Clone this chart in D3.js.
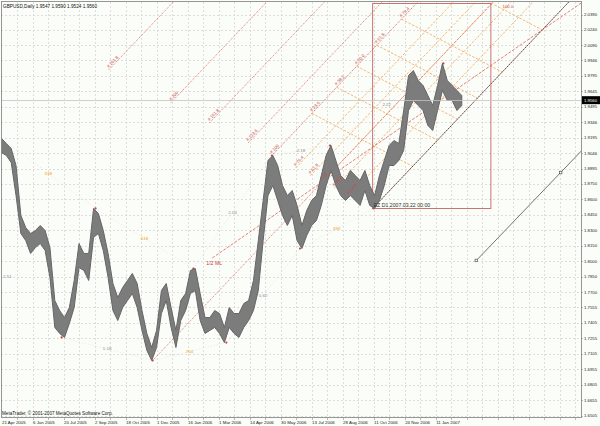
<!DOCTYPE html>
<html><head><meta charset="utf-8">
<script src="https://cdn.jsdelivr.net/npm/d3@7/dist/d3.min.js"></script>
<style>html,body{margin:0;padding:0;background:#fbfef8;} svg{display:block;font-family:"Liberation Sans",Arial,sans-serif;}</style>
</head><body>
<svg id="chart" width="600" height="426"></svg>
<script>
// ---------------- data ----------------
const chartTitle = "GBPUSD,Daily  1.9547 1.9590 1.9524 1.9560";
const copyrightText = "MetaTrader, \u00a9 2001-2007 MetaQuotes Software Corp.";
const dateLabels = ["21 Apr 2005","6 Jun 2005","20 Jul 2005","2 Sep 2005","18 Oct 2005","1 Dec 2005","16 Jan 2006","1 Mar 2006","14 Apr 2006","30 May 2006","13 Jul 2006","28 Aug 2006","11 Oct 2006","24 Nov 2006","11 Jan 2007"];
const dateLabelBars = [0,32,64,96,128,160,192,224,256,288,320,352,384,416,448];
const priceTicks = [2.0390,2.0240,2.0090,1.9946,1.9795,1.9645,1.9495,1.9346,1.9195,1.9046,1.8895,1.8750,1.8600,1.8450,1.8300,1.8150,1.8000,1.7850,1.7700,1.7555,1.7405,1.7255,1.7105,1.6955,1.6805,1.6655,1.6505];
const lastPrice = 1.9560;

const barIndex = [0,5,10,15,20,25,30,35,40,45,50,55,60,65,70,75,80,85,90,95,100,105,110,115,120,125,130,135,140,145,150,155,160,165,170,175,180,185,190,195,200,205,210,215,220,225,230,235,240,245,250,255,260,265,270,275,280,285,290,295,300,305,310,315,320,325,330,335,340,345,350,355,360,365,370,375,380,385,390,395,400,405,410,415,420,425,430,435,440,445,450,455,460,465,470,475];
const highs = [1.9189,1.9140,1.9092,1.8927,1.8443,1.8326,1.8268,1.8297,1.8346,1.8297,1.8132,1.7619,1.7522,1.7454,1.7551,1.7813,1.8171,1.8075,1.8075,1.8511,1.8462,1.8297,1.8075,1.7784,1.7648,1.7745,1.7813,1.7881,1.7784,1.7522,1.7300,1.7164,1.7329,1.7716,1.7784,1.7551,1.7329,1.7619,1.7687,1.7910,1.7929,1.7687,1.7454,1.7454,1.7522,1.7493,1.7358,1.7551,1.7493,1.7493,1.7590,1.7619,1.7813,1.8200,1.8588,1.8976,1.9024,1.8927,1.8733,1.8636,1.8685,1.8540,1.8346,1.8491,1.8588,1.8636,1.8830,1.9024,1.9121,1.8976,1.8830,1.8782,1.8879,1.8830,1.8782,1.8879,1.8733,1.8636,1.8830,1.8976,1.9121,1.9169,1.9140,1.9460,1.9799,1.9848,1.9751,1.9702,1.9605,1.9509,1.9702,1.9916,1.9751,1.9702,1.9654,1.9605];
const lows = [1.9053,1.9024,1.8956,1.8636,1.8268,1.8200,1.8075,1.8132,1.8171,1.8104,1.7842,1.7358,1.7300,1.7261,1.7396,1.7551,1.7939,1.7910,1.7813,1.8230,1.8268,1.8104,1.7842,1.7522,1.7425,1.7551,1.7619,1.7687,1.7551,1.7329,1.7135,1.7038,1.7164,1.7493,1.7619,1.7358,1.7164,1.7425,1.7522,1.7687,1.7716,1.7425,1.7300,1.7329,1.7358,1.7300,1.7212,1.7358,1.7300,1.7261,1.7358,1.7425,1.7522,1.7716,1.8200,1.8636,1.8733,1.8588,1.8443,1.8346,1.8443,1.8200,1.8123,1.8249,1.8346,1.8394,1.8540,1.8733,1.8879,1.8733,1.8636,1.8588,1.8636,1.8588,1.8540,1.8685,1.8540,1.8511,1.8588,1.8733,1.8927,1.8927,1.8976,1.9073,1.9460,1.9557,1.9509,1.9460,1.9315,1.9266,1.9460,1.9654,1.9557,1.9557,1.9460,1.9509];

// zigzag pivots and ratio labels
const pivotBars = [0,62,97,156,198,232,279,308,339,384,456];
const pivotPrices = [1.9189,1.7261,1.8511,1.7038,1.7929,1.7212,1.9024,1.8123,1.9121,1.8511,1.9916];
const pivotRatios = ["","638","1.18","618","764","2.04","0.62","2.18","630","2.22",""];
const extraRatioText = ["2.51"];
const extraRatioBars = [6];
const extraRatioPrices = [1.7855];

// Andrews pitchfork pivots (P0, P1, P2)
const forkBars = [156,279,383];
const forkPrices = [1.7038,1.9024,1.8511];
const forkOuterLevels = [-1.618,-1,-0.618,-0.236,0];
const forkOuterLabels = ["# 261.8","# 200","# 161.8","# 123.6","# 100"];
const forkInnerLevels = [0.236,0.382,0.5,0.618,0.764];
const forkInnerLabels = ["# 76.4","# 61.8","# 50","# 38.2","# 23.6"];
const forkTimeLevels = [0.236,0.382,0.5,0.618,0.764,1];
const forkTimeLabels = ["# 23.6","# 38.2","# 50.0","# 61.8","# 76.4","100.0"];
const halfMLLabel = "1/2 ML";

// rectangle object
const boxBars = [383,505];
const boxPrices = [1.8511,2.0497];
const boxLabel = "EZ D1   2007.03.22 00:00";

// trend ray on the right
const rayBars = [490,577];
const rayPrices = [1.8007,1.8859];

// ---------------- drawing ----------------
const W = 600, H = 426;
const plot = {l:1, t:2, r:581, b:418};
const svg = d3.select("#chart");
const x = d3.scaleLinear().domain([0,598]).range([1.5,581]);
const y = d3.scaleLinear().domain([1.6505,2.0390]).range([415.5,14.5]);

svg.append("rect").attr("width",W).attr("height",H).attr("fill","#fbfef8");
svg.append("defs").append("clipPath").attr("id","clip")
  .append("rect").attr("x",plot.l).attr("y",plot.t).attr("width",plot.r-plot.l).attr("height",plot.b-plot.t);

// grid
const grid = svg.append("g").attr("clip-path","url(#clip)");
grid.selectAll(".hg").data(priceTicks).join("line")
  .attr("x1",plot.l).attr("x2",plot.r).attr("y1",d=>Math.round(y(d))+0.5).attr("y2",d=>Math.round(y(d))+0.5)
  .attr("stroke","#d6cfcf").attr("stroke-width",0.7).attr("stroke-dasharray","2,2");
const gridBars = d3.range(16, 598, 16);
grid.selectAll(".vg").data(gridBars).join("line")
  .attr("y1",plot.t).attr("y2",plot.b).attr("x1",d=>Math.round(x(d))+0.5).attr("x2",d=>Math.round(x(d))+0.5)
  .attr("stroke","#d6cfcf").attr("stroke-width",0.7).attr("stroke-dasharray","2,2");

const objs = svg.append("g").attr("clip-path","url(#clip)");
function seg(g,a,b,stroke,dash,w){
  return g.append("line").attr("x1",a[0]).attr("y1",a[1]).attr("x2",b[0]).attr("y2",b[1])
   .attr("stroke",stroke).attr("stroke-width",w||0.8).attr("stroke-dasharray",dash||null);
}

// zigzag faint connector lines (pivot i-1 to i+1)
const piv = pivotBars.map((b,i)=>[x(b), y(pivotPrices[i])]);
for(let i=1;i<piv.length-1;i++){
  seg(objs,piv[i-1],piv[i+1],"#ead8d8","1,2",0.7);
}

// price bars
const priceG = svg.append("g").attr("clip-path","url(#clip)");
const area = d3.area().x((d,i)=>x(barIndex[i])).y0((d,i)=>y(lows[i])).y1((d,i)=>y(highs[i]));
priceG.append("path").datum(barIndex).attr("d",area).attr("fill","#7c7c7c").attr("stroke","#666").attr("stroke-width",1);

// bid line
const yb = Math.round(y(lastPrice))+0.5;
svg.append("line").attr("x1",plot.l).attr("x2",plot.r).attr("y1",yb).attr("y2",yb).attr("stroke","#c4c4c4").attr("stroke-width",0.8);

// pitchfork
const P = forkBars.map((b,i)=>[x(b), y(forkPrices[i])]);
const M = [(P[1][0]+P[2][0])/2, (P[1][1]+P[2][1])/2];
const dv = [M[0]-P[0][0], M[1]-P[0][1]];
const av = [P[2][0]-P[1][0], P[2][1]-P[1][1]];
const pt = (r,t)=>[P[1][0]+r*av[0]+t*dv[0], P[1][1]+r*av[1]+t*dv[1]];
const ang = Math.atan2(dv[1],dv[0])*180/Math.PI;

forkOuterLevels.forEach((r,i)=>{
  seg(objs, pt(r,0), pt(r,3), r===0?"#d84848":"#e05c5c", "1,1.2", 0.9);
});
forkInnerLevels.forEach(r=>{
  seg(objs, pt(r,0), pt(r,3), "#f2a25a", "2.5,1.5", 0.8);
});
// median from P0
seg(objs, P[0], [P[0][0]+3*dv[0], P[0][1]+3*dv[1]], "#e05c5c", "1,1.2", 0.9);
// time (crossing) lines
forkTimeLevels.forEach(t=>{
  seg(objs, pt(0,t), pt(1,t), "#f2a25a", "2.5,1.5", 0.8);
});
// lower tine
seg(objs, P[2], pt(1,3), "#5a2c2c", "2,0.6", 0.9);
// 1/2 ML line
const mid01 = [(P[0][0]+P[1][0])/2, (P[0][1]+P[1][1])/2];
const e1 = pt(1,1);
seg(objs, mid01, [mid01[0]+3*(e1[0]-mid01[0]), mid01[1]+3*(e1[1]-mid01[1])], "#e05c5c", "3,1.5", 0.8);

// rectangle
objs.append("rect").attr("x",x(boxBars[0])).attr("y",y(boxPrices[1]))
  .attr("width",x(boxBars[1])-x(boxBars[0])).attr("height",y(boxPrices[0])-y(boxPrices[1]))
  .attr("fill","none").attr("stroke","#c46464").attr("stroke-width",0.9);

// right ray
const r0 = [x(rayBars[0]), y(rayPrices[0])], r1 = [x(rayBars[1]), y(rayPrices[1])];
seg(objs, r0, [r0[0]+3*(r1[0]-r0[0]), r0[1]+3*(r1[1]-r0[1])], "#505050", null, 0.8);
[r0,r1].forEach(p=>objs.append("rect").attr("x",p[0]-1.3).attr("y",p[1]-1.3).attr("width",2.6).attr("height",2.6)
  .attr("fill","#fbfef8").attr("stroke","#404040").attr("stroke-width",0.6));

// labels
const lab = svg.append("g").style("font-size","4.4px");
function rotLabel(p,text,color){
  lab.append("text").attr("transform",`translate(${p[0]},${p[1]}) rotate(${ang})`)
    .attr("x",1).attr("y",-1.2).attr("fill",color).text(text);
}
forkOuterLevels.forEach((r,i)=>rotLabel(pt(r,0),forkOuterLabels[i],"#c84848"));
forkInnerLevels.forEach((r,i)=>rotLabel(pt(r,0),forkInnerLabels[i],"#c84848"));
forkTimeLevels.forEach((t,i)=>{
  const p = pt(0,t);
  if(p[1] > plot.t+14){ rotLabel(p,forkTimeLabels[i],"#c84848"); }
  else {
    // label where the crossing line enters the chart top
    const q = pt(1,t);
    const k = (plot.t+6 - p[1])/(q[1]-p[1]);
    lab.append("text").attr("x",p[0]+k*(q[0]-p[0])+2).attr("y",plot.t+6).attr("fill","#c84848").text(forkTimeLabels[i]);
  }
});

lab.append("text").attr("x",mid01[0]-6).attr("y",mid01[1]+7).attr("fill","#c83c3c").style("font-size","5.2px").text(halfMLLabel);
lab.append("text").attr("x",x(boxBars[0])+1).attr("y",y(boxPrices[0])-1.5).attr("fill","#303030").style("font-size","5.2px").text(boxLabel);

// pivot ratio labels
pivotRatios.forEach((t,i)=>{
  if(!t) return;
  const mx=(piv[i-1][0]+piv[i+1][0])/2, my=(piv[i-1][1]+piv[i+1][1])/2;
  lab.append("text").attr("x",mx).attr("y",my+1.5).attr("text-anchor","middle")
    .attr("fill", t.indexOf(".")>=0 ? "#8a8a8a" : "#f0a020").text(t);
});
extraRatioText.forEach((t,i)=>{
  lab.append("text").attr("x",x(extraRatioBars[i])).attr("y",y(extraRatioPrices[i])+1.5).attr("text-anchor","middle").attr("fill","#8a8a8a").text(t);
});
// pivot dots
objs.selectAll(".pv").data(piv.slice(1)).join("circle").attr("cx",d=>d[0]).attr("cy",d=>d[1]).attr("r",1.1).attr("fill","#d04040");

// frame
svg.append("rect").attr("x",plot.l+0.5).attr("y",plot.t-0.5).attr("width",plot.r-plot.l).attr("height",plot.b-plot.t)
  .attr("fill","none").attr("stroke","#8c8c8c").attr("stroke-width",0.9);

// price axis
const pa = svg.append("g").style("font-size","4.3px");
pa.selectAll("text").data(priceTicks).join("text").attr("x",584).attr("y",d=>y(d)+1.5).attr("fill","#202020")
  .text(d=>d.toFixed(4));
pa.selectAll(".tk").data(priceTicks).join("line").attr("x1",plot.r).attr("x2",plot.r+2).attr("y1",d=>Math.round(y(d))+0.5).attr("y2",d=>Math.round(y(d))+0.5).attr("stroke","#8c8c8c").attr("stroke-width",0.6);
pa.append("rect").attr("x",582).attr("y",y(lastPrice)-4).attr("width",18).attr("height",8).attr("fill","#000");
pa.append("text").attr("x",584).attr("y",y(lastPrice)+1.5).attr("fill","#fff").text(lastPrice.toFixed(4));

// time axis
const ta = svg.append("g").style("font-size","4.4px");
ta.selectAll("text").data(dateLabels).join("text").attr("x",(d,i)=>x(dateLabelBars[i])+0.5).attr("y",424).attr("fill","#202020").text(d=>d);
ta.selectAll(".tk").data(gridBars).join("line").attr("x1",d=>Math.round(x(d))+0.5).attr("x2",d=>Math.round(x(d))+0.5).attr("y1",plot.b).attr("y2",plot.b+2).attr("stroke","#8c8c8c").attr("stroke-width",0.6);

// title and copyright
svg.append("text").attr("x",3).attr("y",8).style("font-size","4.7px").attr("fill","#101010").text(chartTitle);
svg.append("text").attr("x",2).attr("y",415).style("font-size","4.6px").attr("fill","#101010").text(copyrightText);
</script>
</body></html>
